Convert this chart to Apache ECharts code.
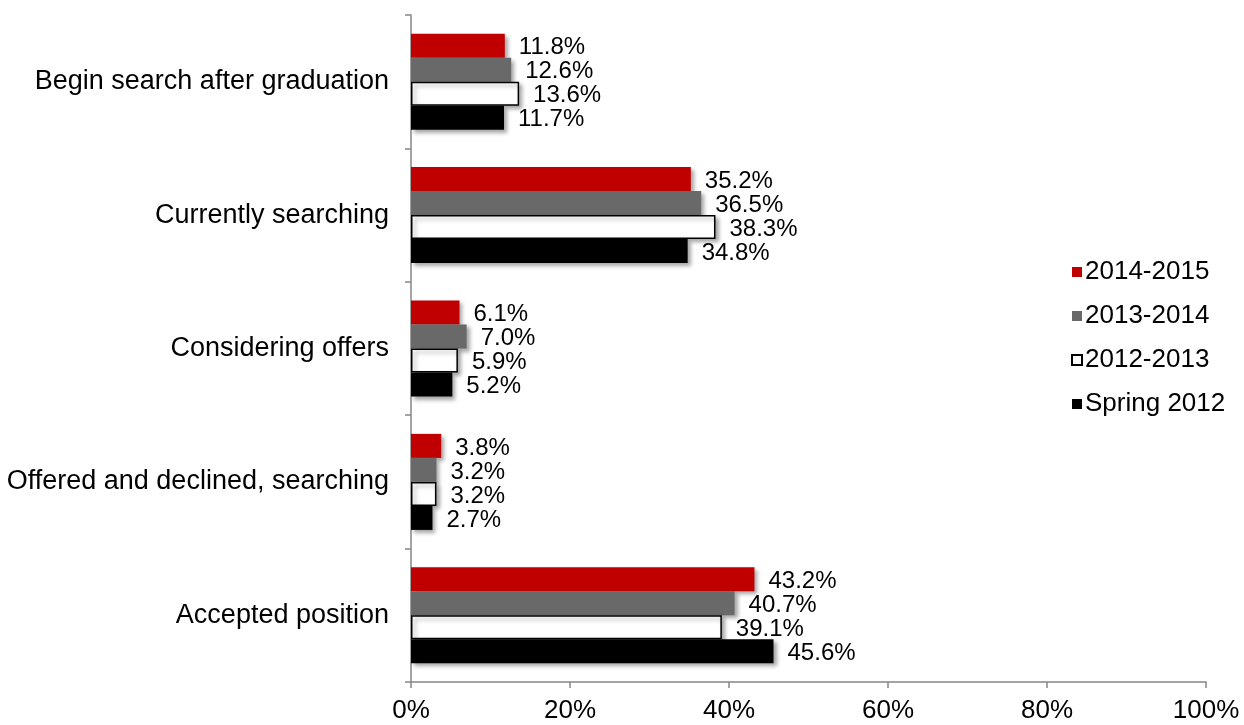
<!DOCTYPE html>
<html>
<head>
<meta charset="utf-8">
<script src="https://cdn.jsdelivr.net/npm/echarts@6/dist/echarts.min.js"></script>
<style>html,body{margin:0;padding:0;background:#fff;}#c{width:1244px;height:725px;}</style>
</head>
<body>
<div id="c"></div>
<script>
var categories = ["Begin search after graduation", "Currently searching", "Considering offers", "Offered and declined, searching", "Accepted position"];
var seriesNames = ["2014-2015", "2013-2014", "2012-2013", "Spring 2012"];
var s2014_2015 = [11.8, 35.2, 6.1, 3.8, 43.2];
var s2013_2014 = [12.6, 36.5, 7.0, 3.2, 40.7];
var s2012_2013 = [13.6, 38.3, 5.9, 3.2, 39.1];
var sSpring2012 = [11.7, 34.8, 5.2, 2.7, 45.6];
var xTicks = [0, 20, 40, 60, 80, 100];

var font = "'Liberation Sans', Arial, sans-serif";
var shadow = {shadowColor: 'rgba(0,0,0,0.35)', shadowBlur: 4, shadowOffsetX: 3, shadowOffsetY: 3};
function mk(name, data, style) {
  return {
    name: name, type: 'bar', data: data,
    barGap: '0%', barCategoryGap: '28%',
    itemStyle: Object.assign({}, shadow, style),
    label: {show: true, position: 'right', distance: 14, offset: [0, 2], color: '#000', fontSize: 24, fontFamily: font,
      formatter: function (p) { return p.value.toFixed(1) + '%'; }},
    emphasis: {disabled: true}
  };
}
var chart = echarts.init(document.getElementById('c'));
chart.setOption({
  animation: false,
  grid: {left: 411, right: 38, top: 15, bottom: 43},
  legend: {
    orient: 'vertical', left: 1066, top: 254, itemGap: 18,
    itemWidth: 10, itemHeight: 10, icon: 'rect',
    textStyle: {fontSize: 26, fontFamily: font, color: '#000', padding: [0, 0, 0, -2]},
    data: seriesNames
  },
  xAxis: {
    type: 'value', min: 0, max: 100, interval: 20,
    axisLine: {show: true, lineStyle: {color: '#868686', width: 1.5}},
    axisTick: {show: true, length: 6, lineStyle: {color: '#868686', width: 1.5}},
    splitLine: {show: false},
    axisLabel: {fontSize: 26, fontFamily: font, color: '#000', margin: 16,
      formatter: function (v) { return xTicks.indexOf(v) >= 0 ? v + '%' : ''; }}
  },
  yAxis: {
    type: 'category', data: categories, inverse: true,
    axisLine: {show: true, lineStyle: {color: '#868686', width: 1.5}},
    axisTick: {show: true, length: 6, lineStyle: {color: '#868686', width: 1.5}},
    axisLabel: {fontSize: 27, fontFamily: font, color: '#000', margin: 22}
  },
  series: [
    mk(seriesNames[0], s2014_2015, {color: '#C00000'}),
    mk(seriesNames[1], s2013_2014, {color: '#696969'}),
    mk(seriesNames[2], s2012_2013, {color: '#FFFFFF', borderColor: '#000', borderWidth: 1.5}),
    mk(seriesNames[3], sSpring2012, {color: '#000000'})
  ]
});
</script>
</body>
</html>
